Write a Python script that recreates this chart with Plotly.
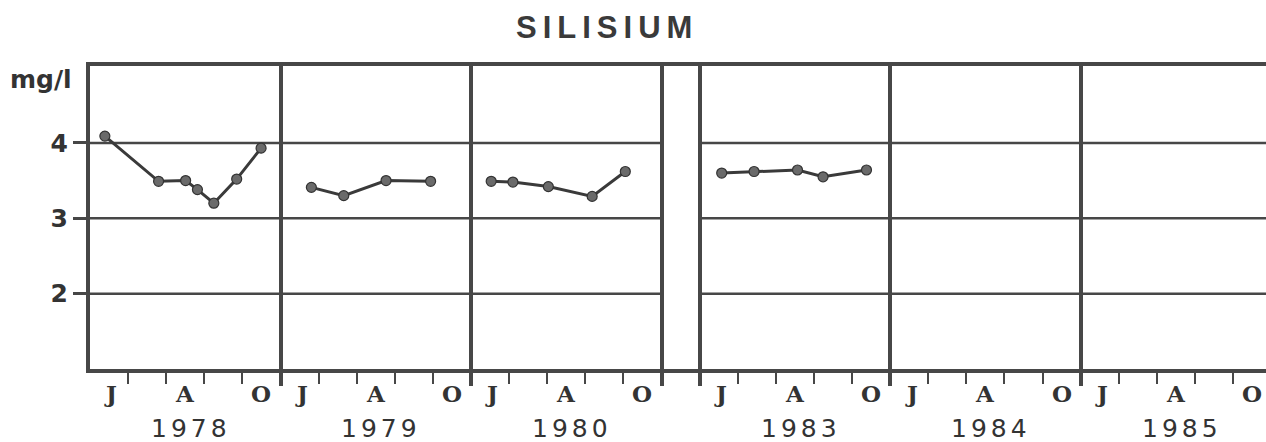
import json
import plotly.graph_objects as go

# ---------------- data ----------------
title_text = "SILISIUM"
unit_text = "mg/l"
years = ["1978", "1979", "1980", "1983", "1984", "1985"]
gap_after = "1980"          # break in the time axis after this year
months_per_panel = 5         # June .. October
month_labels = ["J", "A", "O"]
month_label_pos = [0.55, 2.5, 4.5]   # centre of June, August, October
y_ticks = [2, 3, 4]
y_range = [1, 5.02]

# sampling position (months after 1 June) and silicon concentration (mg/l)
si_1978_month = [0.39, 1.80, 2.51, 2.82, 3.25, 3.85, 4.49]
si_1978 = [4.09, 3.49, 3.50, 3.38, 3.20, 3.52, 3.93]
si_1979_month = [0.81, 1.66, 2.77, 3.94]
si_1979 = [3.41, 3.30, 3.50, 3.49]
si_1980_month = [0.53, 1.10, 2.03, 3.18, 4.05]
si_1980 = [3.49, 3.48, 3.42, 3.29, 3.62]
si_1983_month = [0.58, 1.43, 2.57, 3.24, 4.38]
si_1983 = [3.60, 3.62, 3.64, 3.55, 3.64]

series = {
    "1978": (si_1978_month, si_1978),
    "1979": (si_1979_month, si_1979),
    "1980": (si_1980_month, si_1980),
    "1983": (si_1983_month, si_1983),
}

# ---------------- layout helpers ----------------
INK = "#474747"
W, H = 1266, 442
ML, MR, MT, MB = 90, 0, 66, 73
px_per_month = 38.1

panel_start = {}
pos = 0.0
for yr in years:
    panel_start[yr] = pos
    pos += months_per_panel
    if yr == gap_after:
        pos += 1
x_max = (W - ML - MR) / px_per_month

dividers = []
for yr in years:
    s = panel_start[yr]
    if s > 0:
        dividers.append(s)
    if yr == gap_after:
        dividers.append(s + months_per_panel)
month_bounds = [panel_start[yr] + k for yr in years for k in range(1, months_per_panel)]

fig = go.Figure()

for yr, (mx, vals) in series.items():
    fig.add_trace(go.Scatter(
        x=[panel_start[yr] + m for m in mx], y=vals,
        mode="lines+markers",
        line=dict(color="#3a3a3a", width=3),
        marker=dict(size=10, color="#6a6a6a", line=dict(color="#333333", width=1.2)),
        showlegend=False, hoverinfo="skip",
    ))

# horizontal grid lines, interrupted at the break
gap_start = panel_start[gap_after] + months_per_panel
gap_end = gap_start + 1
shapes = []
for yv in y_ticks:
    for x0, x1 in [(0, gap_start), (gap_end, x_max)]:
        shapes.append(dict(type="line", xref="x", yref="y", x0=x0, x1=x1, y0=yv, y1=yv,
                           line=dict(color=INK, width=2.5), layer="below"))

annotations = []
for yr in years:
    s = panel_start[yr]
    for lab, p in zip(month_labels, month_label_pos):
        annotations.append(dict(
            x=s + p, y=0, xref="x", yref="paper", text=lab, showarrow=False,
            yshift=-24, yanchor="middle",
            font=dict(family="DejaVu Serif", size=23, color="#333333", weight="bold"),
        ))
    annotations.append(dict(
        x=s + months_per_panel / 2 + 0.15, y=0, xref="x", yref="paper",
        text=yr, showarrow=False, yshift=-59, yanchor="middle",
        font=dict(family="DejaVu Sans", size=25, color="#333333"),
    ))

annotations.append(dict(
    x=(607 - ML) / (W - ML - MR), y=1, xref="paper", yref="paper", text=title_text,
    showarrow=False, yshift=39, yanchor="middle",
    font=dict(family="Liberation Sans", size=31, color="#3a3a3a", weight="bold"),
))
annotations.append(dict(
    x=0, y=1, xref="paper", yref="paper", text=unit_text, showarrow=False,
    xshift=-49, yshift=-13, xanchor="center", yanchor="middle",
    font=dict(family="DejaVu Sans", size=25, color="#333333", weight="bold"),
))

fig.update_layout(
    width=W, height=H,
    margin=dict(l=ML, r=MR, t=MT, b=MB),
    paper_bgcolor="white", plot_bgcolor="white",
    shapes=shapes, annotations=annotations,
    xaxis=dict(
        range=[0, x_max], showline=True, linecolor=INK, linewidth=4, mirror=True,
        tickmode="array", tickvals=dividers, showticklabels=False,
        ticks="outside", ticklen=13, tickwidth=4, tickcolor=INK,
        showgrid=True, gridcolor=INK, gridwidth=4, zeroline=False,
        minor=dict(tickmode="array", tickvals=month_bounds, ticks="outside",
                   ticklen=11, tickwidth=2, tickcolor=INK, showgrid=False),
        fixedrange=True,
    ),
    yaxis=dict(
        range=y_range, showline=True, linecolor=INK, linewidth=4, mirror=False,
        tickmode="array", tickvals=y_ticks, ticks="outside", ticklen=13,
        tickwidth=2.5, tickcolor=INK, showgrid=False, zeroline=False,
        tickfont=dict(family="DejaVu Sans", size=25, color="#333333", weight="bold"),
        fixedrange=True,
    ),
)

spacing = {title_text: "6px"}
spacing.update({yr: "4px" for yr in years})
post_js = (
    "document.body.style.margin='0';"
    "var sp=" + json.dumps(spacing) + ";"
    "document.querySelectorAll('.annotation-text').forEach(function(t){"
    "var s=t.textContent; if(sp[s]){t.style.letterSpacing=sp[s];}});"
)

fig.write_html("out.html", post_script=post_js, config={"displayModeBar": False})
